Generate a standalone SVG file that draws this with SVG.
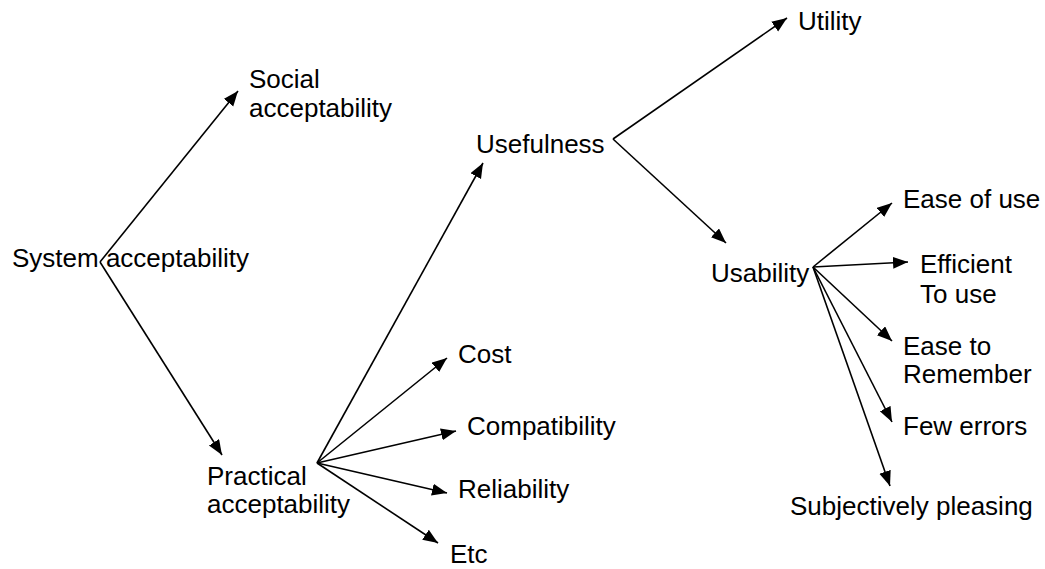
<svg xmlns="http://www.w3.org/2000/svg" width="1045" height="569" viewBox="0 0 1045 569">
<style>
text{font-family:"Liberation Sans",Arial,sans-serif;font-size:26px;fill:#000}
.c line{stroke:#000;stroke-width:1.6;marker-end:url(#ah)}
</style>
<defs>
<marker id="ah" markerUnits="userSpaceOnUse" markerWidth="16" markerHeight="13" refX="15" refY="6" orient="auto">
<path d="M0,0 L15,6 L0,12 z" fill="#000"/>
</marker>
</defs>
<rect width="1045" height="569" fill="#fff"/>
<g class="c" id="connectors">
<line x1="100" y1="262" x2="238" y2="91"/>
<line x1="100" y1="262" x2="222" y2="455"/>
<line x1="317" y1="463" x2="483" y2="163"/>
<line x1="317" y1="463" x2="447" y2="358"/>
<line x1="317" y1="463" x2="456" y2="431"/>
<line x1="317" y1="463" x2="447" y2="493"/>
<line x1="317" y1="463" x2="438" y2="543"/>
<line x1="613" y1="139" x2="787" y2="18"/>
<line x1="613" y1="139" x2="726" y2="243"/>
<line x1="813" y1="267" x2="892" y2="203"/>
<line x1="813" y1="267" x2="908" y2="262"/>
<line x1="813" y1="267" x2="892" y2="341"/>
<line x1="813" y1="267" x2="892" y2="422"/>
<line x1="813" y1="267" x2="890" y2="486"/>
</g>
<g id="system"><text x="12" y="267">System acceptability</text></g>
<g id="social"><text x="249" y="88">Social</text><text x="249" y="117">acceptability</text></g>
<g id="practical"><text x="207" y="485">Practical</text><text x="207" y="513">acceptability</text></g>
<g id="usefulness"><text x="476" y="153">Usefulness</text></g>
<g id="cost"><text x="458" y="363">Cost</text></g>
<g id="compatibility"><text x="467" y="435">Compatibility</text></g>
<g id="reliability"><text x="458" y="498">Reliability</text></g>
<g id="etc"><text x="450" y="563">Etc</text></g>
<g id="utility"><text x="798" y="30">Utility</text></g>
<g id="usability"><text x="711" y="282">Usability</text></g>
<g id="easeofuse"><text x="903" y="208">Ease of use</text></g>
<g id="efficient"><text x="920" y="273">Efficient</text><text x="920" y="303">To use</text></g>
<g id="easeremember"><text x="903" y="355">Ease to</text><text x="903" y="383">Remember</text></g>
<g id="fewerrors"><text x="903" y="435">Few errors</text></g>
<g id="pleasing"><text x="790" y="515">Subjectively pleasing</text></g>
</svg>
